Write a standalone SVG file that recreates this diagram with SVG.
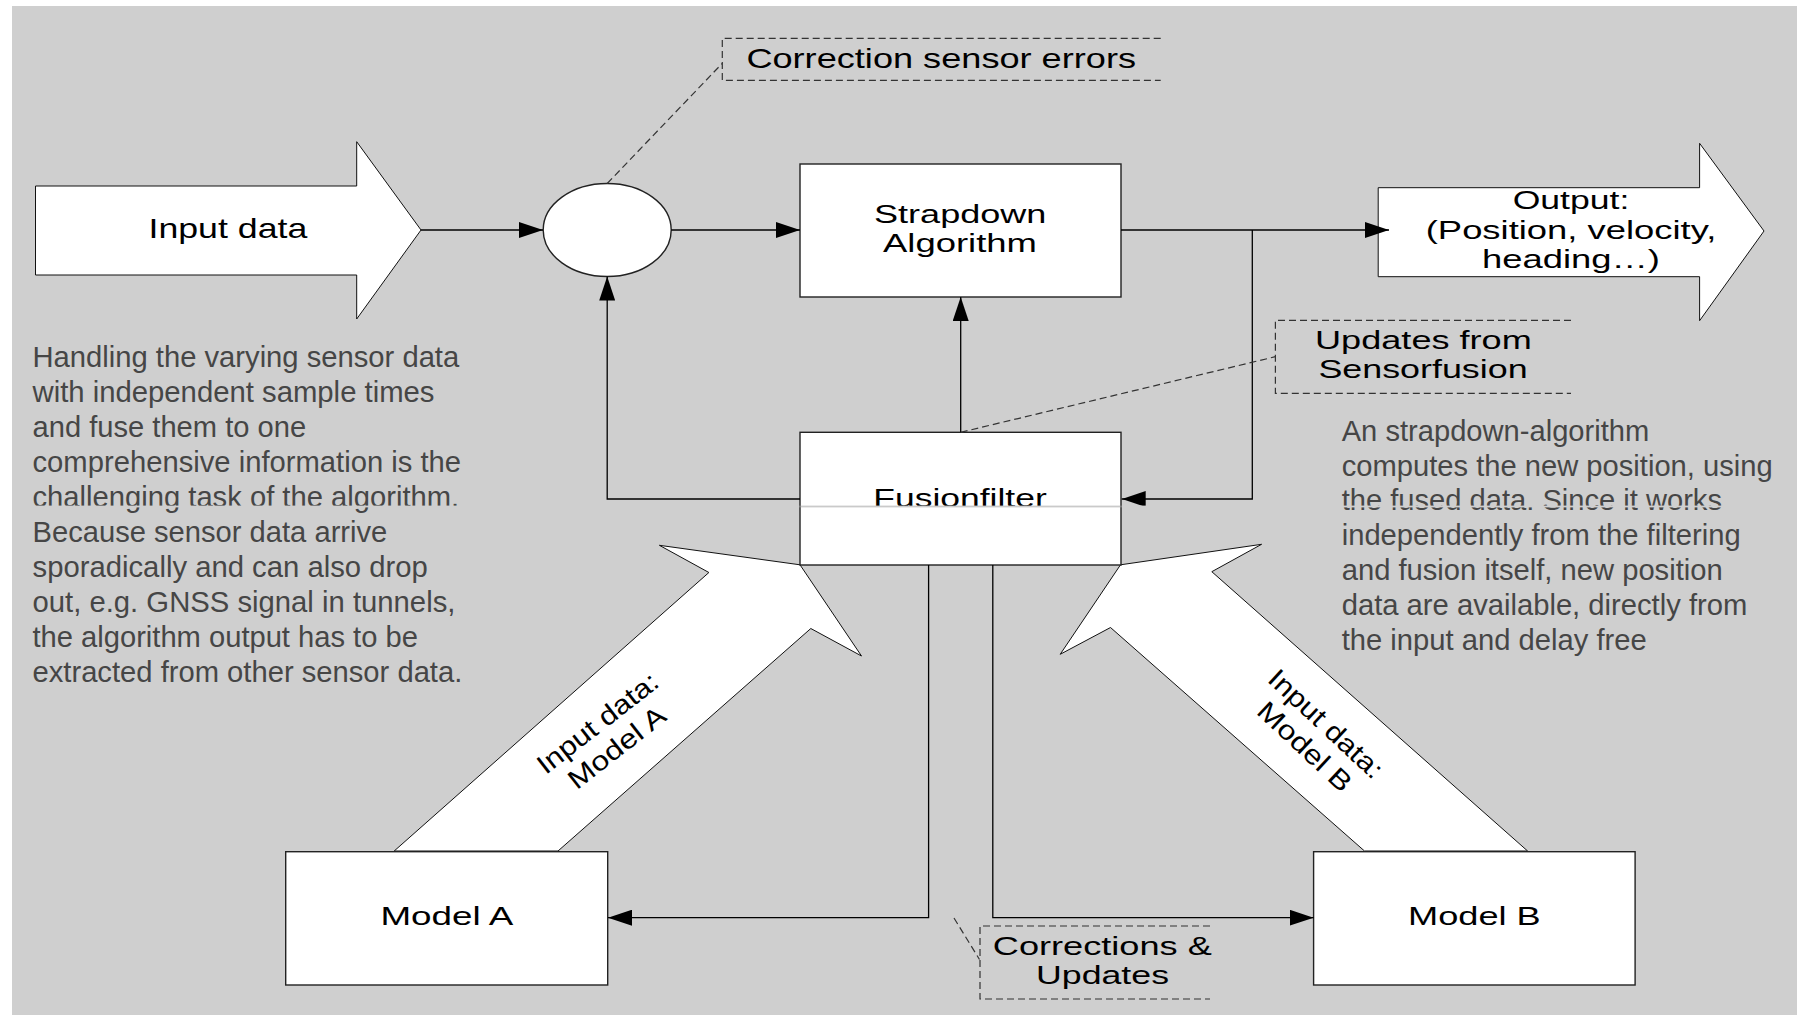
<svg xmlns="http://www.w3.org/2000/svg" width="1797" height="1015" viewBox="0 0 1797 1015">
<style>
.bg{fill:#cfcfcf}
.box{fill:#fff;stroke:#222;stroke-width:1.4}
.big{fill:#fff;stroke:#111;stroke-width:1}
.lbl{font-family:"Liberation Sans",Arial,sans-serif;font-size:25px;fill:#000}
.lbl27{font-family:"Liberation Sans",Arial,sans-serif;font-size:27px;fill:#000}
.lbl28{font-family:"Liberation Sans",Arial,sans-serif;font-size:28px;fill:#000}
.para{font-family:"Liberation Sans",Arial,sans-serif;font-size:29px;fill:#464646}
.con{fill:none;stroke:#000;stroke-width:1.3}
.dash{fill:none;stroke:#333;stroke-width:1.2;stroke-dasharray:7 4}
</style>
<defs>
<marker id="ah" markerUnits="userSpaceOnUse" viewBox="0 0 24 16" refX="24" refY="8" markerWidth="24" markerHeight="16" orient="auto">
<path d="M0,0 L24,8 L0,16 Z" fill="#000"/>
</marker>
</defs>
<rect class="bg" x="12" y="6" width="1785" height="1009"/>

<g id="input-arrow">
<polygon class="big" points="35.5,186 356.7,186 356.7,141.7 421,230 356.7,319 356.7,275 35.5,275"/>
<text class="lbl28" x="227.9" y="238.3" text-anchor="middle" textLength="158.8" lengthAdjust="spacingAndGlyphs">Input data</text>
</g>

<g id="output-arrow">
<polygon class="big" points="1378.2,187.7 1699.6,187.7 1699.6,143.3 1764,231 1699.6,320.7 1699.6,276.7 1378.2,276.7"/>
<text class="lbl" x="1571" y="209.3" text-anchor="middle" textLength="116.7" lengthAdjust="spacingAndGlyphs">Output:</text>
<text class="lbl" x="1571" y="239" text-anchor="middle" textLength="290.5" lengthAdjust="spacingAndGlyphs">(Position, velocity,</text>
<text class="lbl" x="1571" y="268.3" text-anchor="middle" textLength="177.8" lengthAdjust="spacingAndGlyphs">heading…)</text>
</g>

<g id="model-a-arrow">
<polygon class="big" points="394.2,851 708.9,572.5 659.4,545.3 800,564.8 861.5,656 810.8,628.5 558,851"/>
<g transform="translate(607,735) rotate(-38)">
<text class="lbl27" x="0" y="-6" text-anchor="middle" textLength="146" lengthAdjust="spacingAndGlyphs">Input data:</text>
<text class="lbl27" x="0" y="25" text-anchor="middle" textLength="116" lengthAdjust="spacingAndGlyphs">Model A</text>
</g>
</g>

<g id="model-b-arrow">
<polygon class="big" points="1364.5,851 1110.5,627.5 1060.2,654.3 1120.5,564.8 1261.6,544.3 1211.8,571.7 1527.6,851"/>
<g transform="translate(1315.5,735) rotate(43)">
<text class="lbl27" x="0" y="-6" text-anchor="middle" textLength="146" lengthAdjust="spacingAndGlyphs">Input data:</text>
<text class="lbl27" x="0" y="25" text-anchor="middle" textLength="118" lengthAdjust="spacingAndGlyphs">Model B</text>
</g>
</g>

<g id="summing-node">
<ellipse class="box" cx="607.2" cy="230" rx="64" ry="46.5"/>
</g>

<g id="strapdown">
<rect class="box" x="800" y="164" width="321" height="133"/>
<text class="lbl" x="960.2" y="222.7" text-anchor="middle" textLength="172.4" lengthAdjust="spacingAndGlyphs">Strapdown</text>
<text class="lbl" x="960" y="252.3" text-anchor="middle" textLength="154" lengthAdjust="spacingAndGlyphs">Algorithm</text>
</g>

<g id="fusionfilter">
<rect class="box" x="800" y="432.3" width="321" height="132.7"/>
<text class="lbl" x="960" y="507" text-anchor="middle" textLength="173.4" lengthAdjust="spacingAndGlyphs">Fusionfilter</text>
</g>

<g id="model-a">
<rect class="box" x="285.7" y="851.7" width="322" height="133.3"/>
<text class="lbl" x="446.9" y="925" text-anchor="middle" textLength="133" lengthAdjust="spacingAndGlyphs">Model A</text>
</g>

<g id="model-b">
<rect class="box" x="1313.6" y="851.7" width="321.5" height="133.3"/>
<text class="lbl" x="1474.4" y="925" text-anchor="middle" textLength="132.7" lengthAdjust="spacingAndGlyphs">Model B</text>
</g>

<g id="connectors">
<path class="con" d="M421,230 H543" marker-end="url(#ah)"/>
<path class="con" d="M671.2,230 H800" marker-end="url(#ah)"/>
<path class="con" d="M1121,230 H1389" marker-end="url(#ah)"/>
<path class="con" d="M1252.3,230 V499 H1121.7" marker-end="url(#ah)"/>
<path class="con" d="M960.7,432.3 V297" marker-end="url(#ah)"/>
<path class="con" d="M800,499 H607.2 V276.5" marker-end="url(#ah)"/>
<path class="con" d="M928.6,565 V917.7 H608" marker-end="url(#ah)"/>
<path class="con" d="M992.8,565 V917.7 H1313.6" marker-end="url(#ah)"/>
</g>

<g id="note-correction">
<path class="dash" d="M607.2,183.5 L722.3,63.3"/>
<path class="dash" d="M1160.7,38.3 H722.3 V80.3 H1160.7"/>
<text class="lbl28" x="746.4" y="67.7" textLength="389.6" lengthAdjust="spacingAndGlyphs">Correction sensor errors</text>
</g>

<g id="note-updates">
<path class="dash" d="M960.7,432.3 L1275.4,356.7"/>
<path class="dash" d="M1571,320.3 H1275.4 V393.3 H1571"/>
<text class="lbl" x="1423.4" y="349.3" text-anchor="middle" textLength="216.7" lengthAdjust="spacingAndGlyphs">Updates from</text>
<text class="lbl" x="1423" y="378.3" text-anchor="middle" textLength="209.2" lengthAdjust="spacingAndGlyphs">Sensorfusion</text>
</g>

<g id="note-corrections">
<path class="dash" d="M954,918 L979.5,959.5"/>
<path class="dash" d="M1210,926 H980 V999 H1210"/>
<text class="lbl" x="1102.3" y="955" text-anchor="middle" textLength="219" lengthAdjust="spacingAndGlyphs">Corrections &amp;</text>
<text class="lbl" x="1102.5" y="984" text-anchor="middle" textLength="133" lengthAdjust="spacingAndGlyphs">Updates</text>
</g>

<g id="text-left">
<text class="para" x="32.5" y="366.7" textLength="426.7" lengthAdjust="spacingAndGlyphs">Handling the varying sensor data</text>
<text class="para" x="32.5" y="401.7" textLength="402" lengthAdjust="spacingAndGlyphs">with independent sample times</text>
<text class="para" x="32.5" y="436.7" textLength="273.6" lengthAdjust="spacingAndGlyphs">and fuse them to one</text>
<text class="para" x="32.5" y="471.7" textLength="428.6" lengthAdjust="spacingAndGlyphs">comprehensive information is the</text>
<text class="para" x="32.5" y="506.7" textLength="426.7" lengthAdjust="spacingAndGlyphs">challenging task of the algorithm.</text>
<text class="para" x="32.5" y="541.7" textLength="354.8" lengthAdjust="spacingAndGlyphs">Because sensor data arrive</text>
<text class="para" x="32.5" y="576.7" textLength="395.3" lengthAdjust="spacingAndGlyphs">sporadically and can also drop</text>
<text class="para" x="32.5" y="611.7" textLength="422.9" lengthAdjust="spacingAndGlyphs">out, e.g. GNSS signal in tunnels,</text>
<text class="para" x="32.5" y="646.7" textLength="385.4" lengthAdjust="spacingAndGlyphs">the algorithm output has to be</text>
<text class="para" x="32.5" y="681.7" textLength="429.8" lengthAdjust="spacingAndGlyphs">extracted from other sensor data.</text>
</g>

<g id="text-right">
<text class="para" x="1341.7" y="440.7" textLength="307.6" lengthAdjust="spacingAndGlyphs">An strapdown-algorithm</text>
<text class="para" x="1341.7" y="475.5" textLength="431" lengthAdjust="spacingAndGlyphs">computes the new position, using</text>
<text class="para" x="1341.7" y="510.3" textLength="380.3" lengthAdjust="spacingAndGlyphs">the fused data. Since it works</text>
<text class="para" x="1341.7" y="545" textLength="399" lengthAdjust="spacingAndGlyphs">independently from the filtering</text>
<text class="para" x="1341.7" y="580" textLength="381" lengthAdjust="spacingAndGlyphs">and fusion itself, new position</text>
<text class="para" x="1341.7" y="615" textLength="405.6" lengthAdjust="spacingAndGlyphs">data are available, directly from</text>
<text class="para" x="1341.7" y="650" textLength="305" lengthAdjust="spacingAndGlyphs">the input and delay free</text>
</g>

<g id="page-seam">
<rect x="12" y="505.6" width="787.3" height="1.8" fill="#cfcfcf"/>
<rect x="800.7" y="505.6" width="319.6" height="1.8" fill="#cacaca"/>
<rect x="1121.7" y="505.6" width="675.3" height="1.8" fill="#cfcfcf"/>
</g>
</svg>
